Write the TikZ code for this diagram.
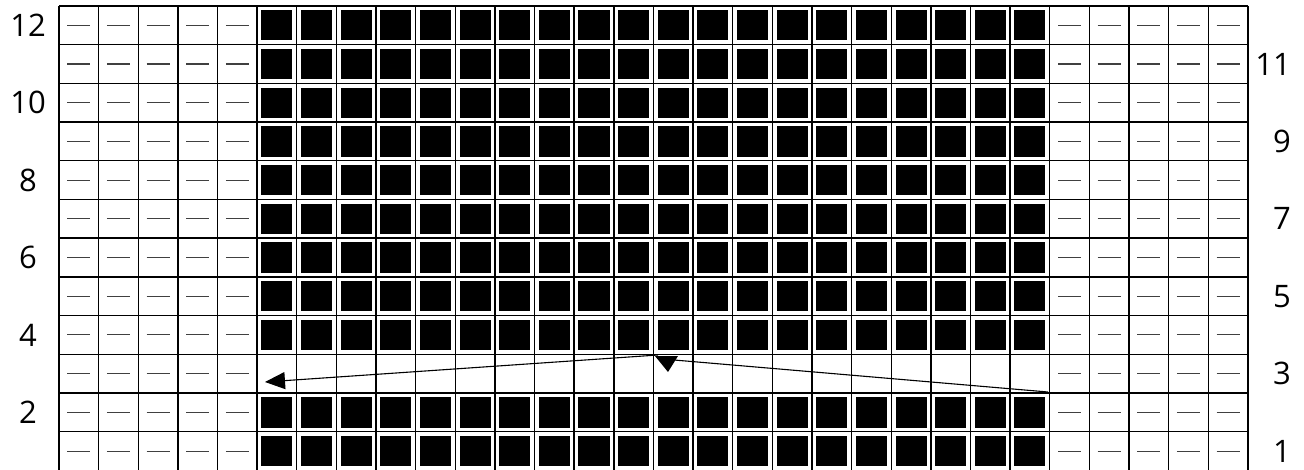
\documentclass[tikz,border=0pt]{standalone}
\usepackage{fontspec}
\setmainfont{Open Sans}
\usetikzlibrary{arrows.meta}
\tikzset{
  gridline/.style={line width=1.4pt, black},
  dashmark/.style={line width=1.1pt, black!75},
  stitchbox/.style={fill=black},
  rowlabel/.style={inner sep=0pt, font=\fontsize{31}{32}\selectfont},
  arrowline/.style={line width=1.1pt, black},
}
\def\cw{39.63}
\def\rh{38.7}
\def\gx{59}
\def\gy{6}
\newcommand\mydashcell{\draw[dashmark] ({\xa+\cw/2-11.5},{\ya+\rh/2}) -- ++(23,0);}
\newcommand\myblackcell{\fill[stitchbox] ({\xa+4.3},{\ya+4.2}) rectangle ({\xa+\cw-4.3},{\ya+\rh-4.2});}
\begin{document}
\begin{tikzpicture}[x=1pt,y=-1pt]
\useasboundingbox (0,0) rectangle (1304,470);
\fill[white] (0,0) rectangle (1304,470);
% cells
\foreach \c in {0,...,29}{
  \foreach \r in {0,...,11}{
    \pgfmathsetmacro\xa{\gx+\c*\cw}
    \pgfmathsetmacro\ya{\gy+\r*\rh}
    \ifnum\c<5 \mydashcell\else\ifnum\c>24 \mydashcell\else\ifnum\r=9 \else\myblackcell\fi\fi\fi
  }
}
% grid lines
\foreach \c in {0,...,30}{
  \draw[gridline] ({\gx+\c*\cw},\gy) -- ({\gx+\c*\cw},{\gy+12*\rh});
}
\foreach \r in {0,...,12}{
  \draw[gridline] (\gx,{\gy+\r*\rh}) -- ({\gx+30*\cw},{\gy+\r*\rh});
}
% row labels
\foreach \i in {1,...,12}{
  \pgfmathsetmacro\yy{\gy+(12-\i+0.5)*\rh}
  \ifodd\i
    \node[rowlabel, anchor=east] (lab\i) at (1291,\yy) {\i};
  \else
    \node[rowlabel] (lab\i) at (28,\yy) {\i};
  \fi
}
% arrows
\coordinate (rstart) at (1048,392);
\coordinate (rend) at (674,360);
\coordinate (turn) at (658,355);
\coordinate (lend) at (265,382);
\draw[arrowline] (rstart) -- (rend);
\draw[arrowline, -{Triangle[length=20pt,width=17pt]}] (turn) -- (lend);
\fill[black] (655,356) -- (678,356) -- (668,372) -- cycle;
\end{tikzpicture}
\end{document}
